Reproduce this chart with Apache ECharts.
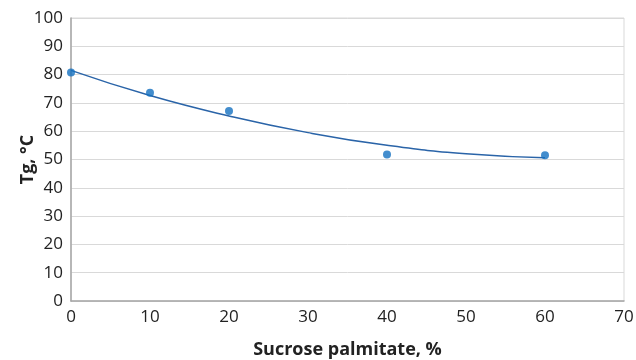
<!DOCTYPE html>
<html>
<head>
<meta charset="utf-8">
<script src="https://cdn.jsdelivr.net/npm/echarts@6/dist/echarts.min.js"></script>
<style>html,body{margin:0;padding:0;background:#fff}#c{width:636px;height:360px}</style>
</head>
<body>
<div id="c"></div>
<script>
var xTitle = 'Sucrose palmitate, %';
var yTitle = 'Tg, °C';
var pointX = [0, 10, 20, 40, 60];
var pointY = [80.7, 73.6, 67.1, 51.8, 51.5];
var trendX = [0, 10, 20, 30, 40, 50, 60];
var trendY = [81.5, 72.6, 65.4, 59.5, 55.0, 52.0, 50.6];

var points = pointX.map(function (x, i) { return [x, pointY[i]]; });
var trend = trendX.map(function (x, i) { return [x, trendY[i]]; });
var font = '"Open Sans", "Noto Sans", sans-serif';

var chart = echarts.init(document.getElementById('c'), null, {renderer: 'canvas'});
chart.setOption({
  animation: false,
  backgroundColor: '#fff',
  grid: {left: 71, right: 12, top: 18, bottom: 59, show: true, borderColor: '#d9d9d9', borderWidth: 1, containLabel: false, outerBoundsMode: 'none'},
  xAxis: {
    type: 'value', min: 0, max: 70, interval: 10,
    name: xTitle, nameLocation: 'middle', nameGap: 40, nameMoveOverlap: false,
    nameTextStyle: {fontFamily: font, fontSize: 18, fontWeight: 'bold', color: '#222'},
    axisLine: {show: true, lineStyle: {color: '#a6a6a6', width: 1.5}},
    axisTick: {show: false},
    axisLabel: {fontFamily: font, fontSize: 17, color: '#222', margin: 8},
    splitLine: {show: false}
  },
  yAxis: {
    type: 'value', min: 0, max: 100, interval: 10,
    name: yTitle, nameLocation: 'middle', nameGap: 34, nameMoveOverlap: false,
    nameTextStyle: {fontFamily: font, fontSize: 18, fontWeight: 'bold', color: '#222'},
    axisLine: {show: true, lineStyle: {color: '#a6a6a6', width: 1.5}},
    axisTick: {show: false},
    axisLabel: {fontFamily: font, fontSize: 17, color: '#222', margin: 8},
    splitLine: {show: true, lineStyle: {color: '#d9d9d9', width: 1}}
  },
  series: [
    {
      type: 'line', data: trend, smooth: true, symbol: 'none',
      lineStyle: {color: '#2a64a8', width: 1.5}, z: 2
    },
    {
      type: 'scatter', data: points, symbol: 'circle', symbolSize: 8,
      itemStyle: {color: '#1470c0'}, z: 3
    }
  ]
});
</script>
</body>
</html>
